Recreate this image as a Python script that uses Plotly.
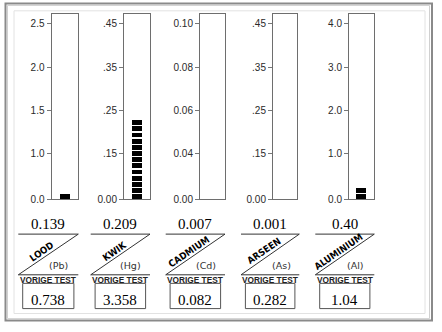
import plotly.graph_objects as go

# ---- data ----
elements = ["LOOD", "KWIK", "CADMIUM", "ARSEEN", "ALUMINIUM"]
symbols = ["(Pb)", "(Hg)", "(Cd)", "(As)", "(Al)"]
readings = ["0.139", "0.209", "0.007", "0.001", "0.40"]
previous = ["0.738", "3.358", "0.082", "0.282", "1.04"]
scale_max = [2.5, 0.45, 0.10, 0.45, 4.0]
tick_labels = [
    ["0.0", "1.0", "1.5", "2.0", "2.5"],
    ["0.00", ".15", ".25", ".35", ".45"],
    ["0.00", "0.04", "0.06", "0.08", "0.10"],
    ["0.00", ".15", ".25", ".35", ".45"],
    ["0.0", "1.0", "2.0", "3.0", "4.0"],
]
# displayed gauge level (as drawn by the segmented bar)
gauge_levels = [0.07, 0.205, 0.0, 0.0, 0.26]

# ---- layout helpers (pixel geometry of the panel) ----
W, H = 442, 332
def X(px):
    return px / W
def Y(py):
    return 1 - py / H

tank_left = [51.5, 124, 200, 273, 349]
tank_right = [77.5, 149.5, 224.5, 297, 373.5]
panel_left = [18.3, 90.7, 165.7, 241, 315.3]
panel_right = [78.3, 150, 225, 299.3, 374.3]
tank_top, tank_bottom, top_tick = 14.7, 202.5, 24.0
tick_frac = [0, 0.264, 0.506, 0.753, 1.0]
pitch_frac = 6.25 / (tank_bottom - top_tick)

fig = go.Figure()
layout = dict(
    width=W, height=H, margin=dict(l=0, r=0, t=0, b=0),
    paper_bgcolor="white", plot_bgcolor="white", showlegend=False,
    bargap=0,
)
shapes = []
annotations = []

for i in range(5):
    sx = "" if i == 0 else str(i + 1)
    top = scale_max[i]
    pitch = top * pitch_frac
    nblocks = int(round(gauge_levels[i] / pitch))
    fig.add_trace(go.Bar(
        x=[0] * nblocks,
        y=[pitch * 0.78] * nblocks,
        base=[k * pitch for k in range(nblocks)],
        width=0.4,
        marker=dict(color="black", line=dict(width=0)),
        xaxis="x" + sx, yaxis="y" + sx,
        hoverinfo="skip",
    ))
    ytop = top * (tank_bottom - tank_top) / (tank_bottom - top_tick)
    layout["xaxis" + sx] = dict(
        domain=[X(tank_left[i]), X(tank_right[i])], range=[-0.5, 0.5],
        showticklabels=False, ticks="", showgrid=False, zeroline=False,
        showline=True, mirror=True, linecolor="#6e6e6e", linewidth=1,
        anchor="y" + sx, fixedrange=True,
    )
    layout["yaxis" + sx] = dict(
        domain=[Y(tank_bottom), Y(tank_top)], range=[0, ytop],
        tickvals=[f * top for f in tick_frac], ticktext=tick_labels[i],
        ticks="outside", ticklen=4, tickcolor="#777", tickwidth=1,
        tickfont=dict(family="Liberation Sans, Arial, sans-serif", size=10, color="#2a2a2a"),
        showgrid=False, zeroline=False,
        showline=True, mirror=True, linecolor="#6e6e6e", linewidth=1,
        anchor="x" + sx, fixedrange=True,
    )

    pl, pr = panel_left[i], panel_right[i]
    pc = (pl + pr) / 2
    y_top_line, y_base = 237.7, 279.0
    line = dict(color="#333", width=1)
    shapes.append(dict(type="line", xref="paper", yref="paper",
                       x0=X(pl), x1=X(pr), y0=Y(y_top_line), y1=Y(y_top_line), line=line))
    shapes.append(dict(type="line", xref="paper", yref="paper",
                       x0=X(pl), x1=X(pr), y0=Y(y_base), y1=Y(y_top_line), line=line))
    shapes.append(dict(type="line", xref="paper", yref="paper",
                       x0=X(pl), x1=X(pr), y0=Y(y_base), y1=Y(y_base), line=line))
    shapes.append(dict(type="rect", xref="paper", yref="paper",
                       x0=X(pl + 4.4), x1=X(pr - 4.4), y0=Y(313.3), y1=Y(287.7),
                       line=dict(color="#555", width=1)))

    slope = (y_base - y_top_line) / (pr - pl)
    ox = 23
    annotations.append(dict(
        x=X(pl + ox), y=Y(y_base - ox * slope - 8), xref="paper", yref="paper",
        text="<b>%s</b>" % elements[i], showarrow=False, textangle=-34.5,
        xanchor="center", yanchor="middle",
        font=dict(family="Liberation Sans Narrow, DejaVu Sans Condensed, Arial Narrow, sans-serif",
                  size=9.5, color="black"),
    ))
    annotations.append(dict(
        x=X(pl + 40), y=Y(270), xref="paper", yref="paper", text=symbols[i],
        showarrow=False, xanchor="center", yanchor="middle",
        font=dict(family="DejaVu Sans, sans-serif", size=9.5, color="#333"),
    ))
    annotations.append(dict(
        x=X(pc), y=Y(227), xref="paper", yref="paper", text=readings[i],
        showarrow=False, xanchor="center", yanchor="middle",
        font=dict(family="Liberation Serif, Times New Roman, serif", size=15, color="black"),
    ))
    annotations.append(dict(
        x=X(pc), y=Y(284.5), xref="paper", yref="paper", text="<b>VORIGE TEST</b>",
        showarrow=False, xanchor="center", yanchor="middle",
        font=dict(family="Liberation Sans, Arial, sans-serif", size=8.3, color="#222"),
    ))
    annotations.append(dict(
        x=X(pc), y=Y(304.5), xref="paper", yref="paper", text=previous[i],
        showarrow=False, xanchor="center", yanchor="middle",
        font=dict(family="Liberation Serif, Times New Roman, serif", size=15, color="black"),
    ))

# outer frame
shapes.append(dict(type="rect", xref="paper", yref="paper",
                   x0=X(5.5), x1=X(432), y0=Y(325.5), y1=Y(3.5),
                   line=dict(color="#8a8a8a", width=2)))
shapes.append(dict(type="rect", xref="paper", yref="paper",
                   x0=X(7.5), x1=X(429.5), y0=Y(323.5), y1=Y(5.5),
                   line=dict(color="#d0d0d0", width=1)))
shapes.append(dict(type="rect", xref="paper", yref="paper",
                   x0=X(14), x1=X(425), y0=Y(318.3), y1=Y(11),
                   line=dict(color="#e2e2e2", width=1)))

layout["shapes"] = shapes
layout["annotations"] = annotations
fig.update_layout(**layout)
fig.write_html("out.html")
